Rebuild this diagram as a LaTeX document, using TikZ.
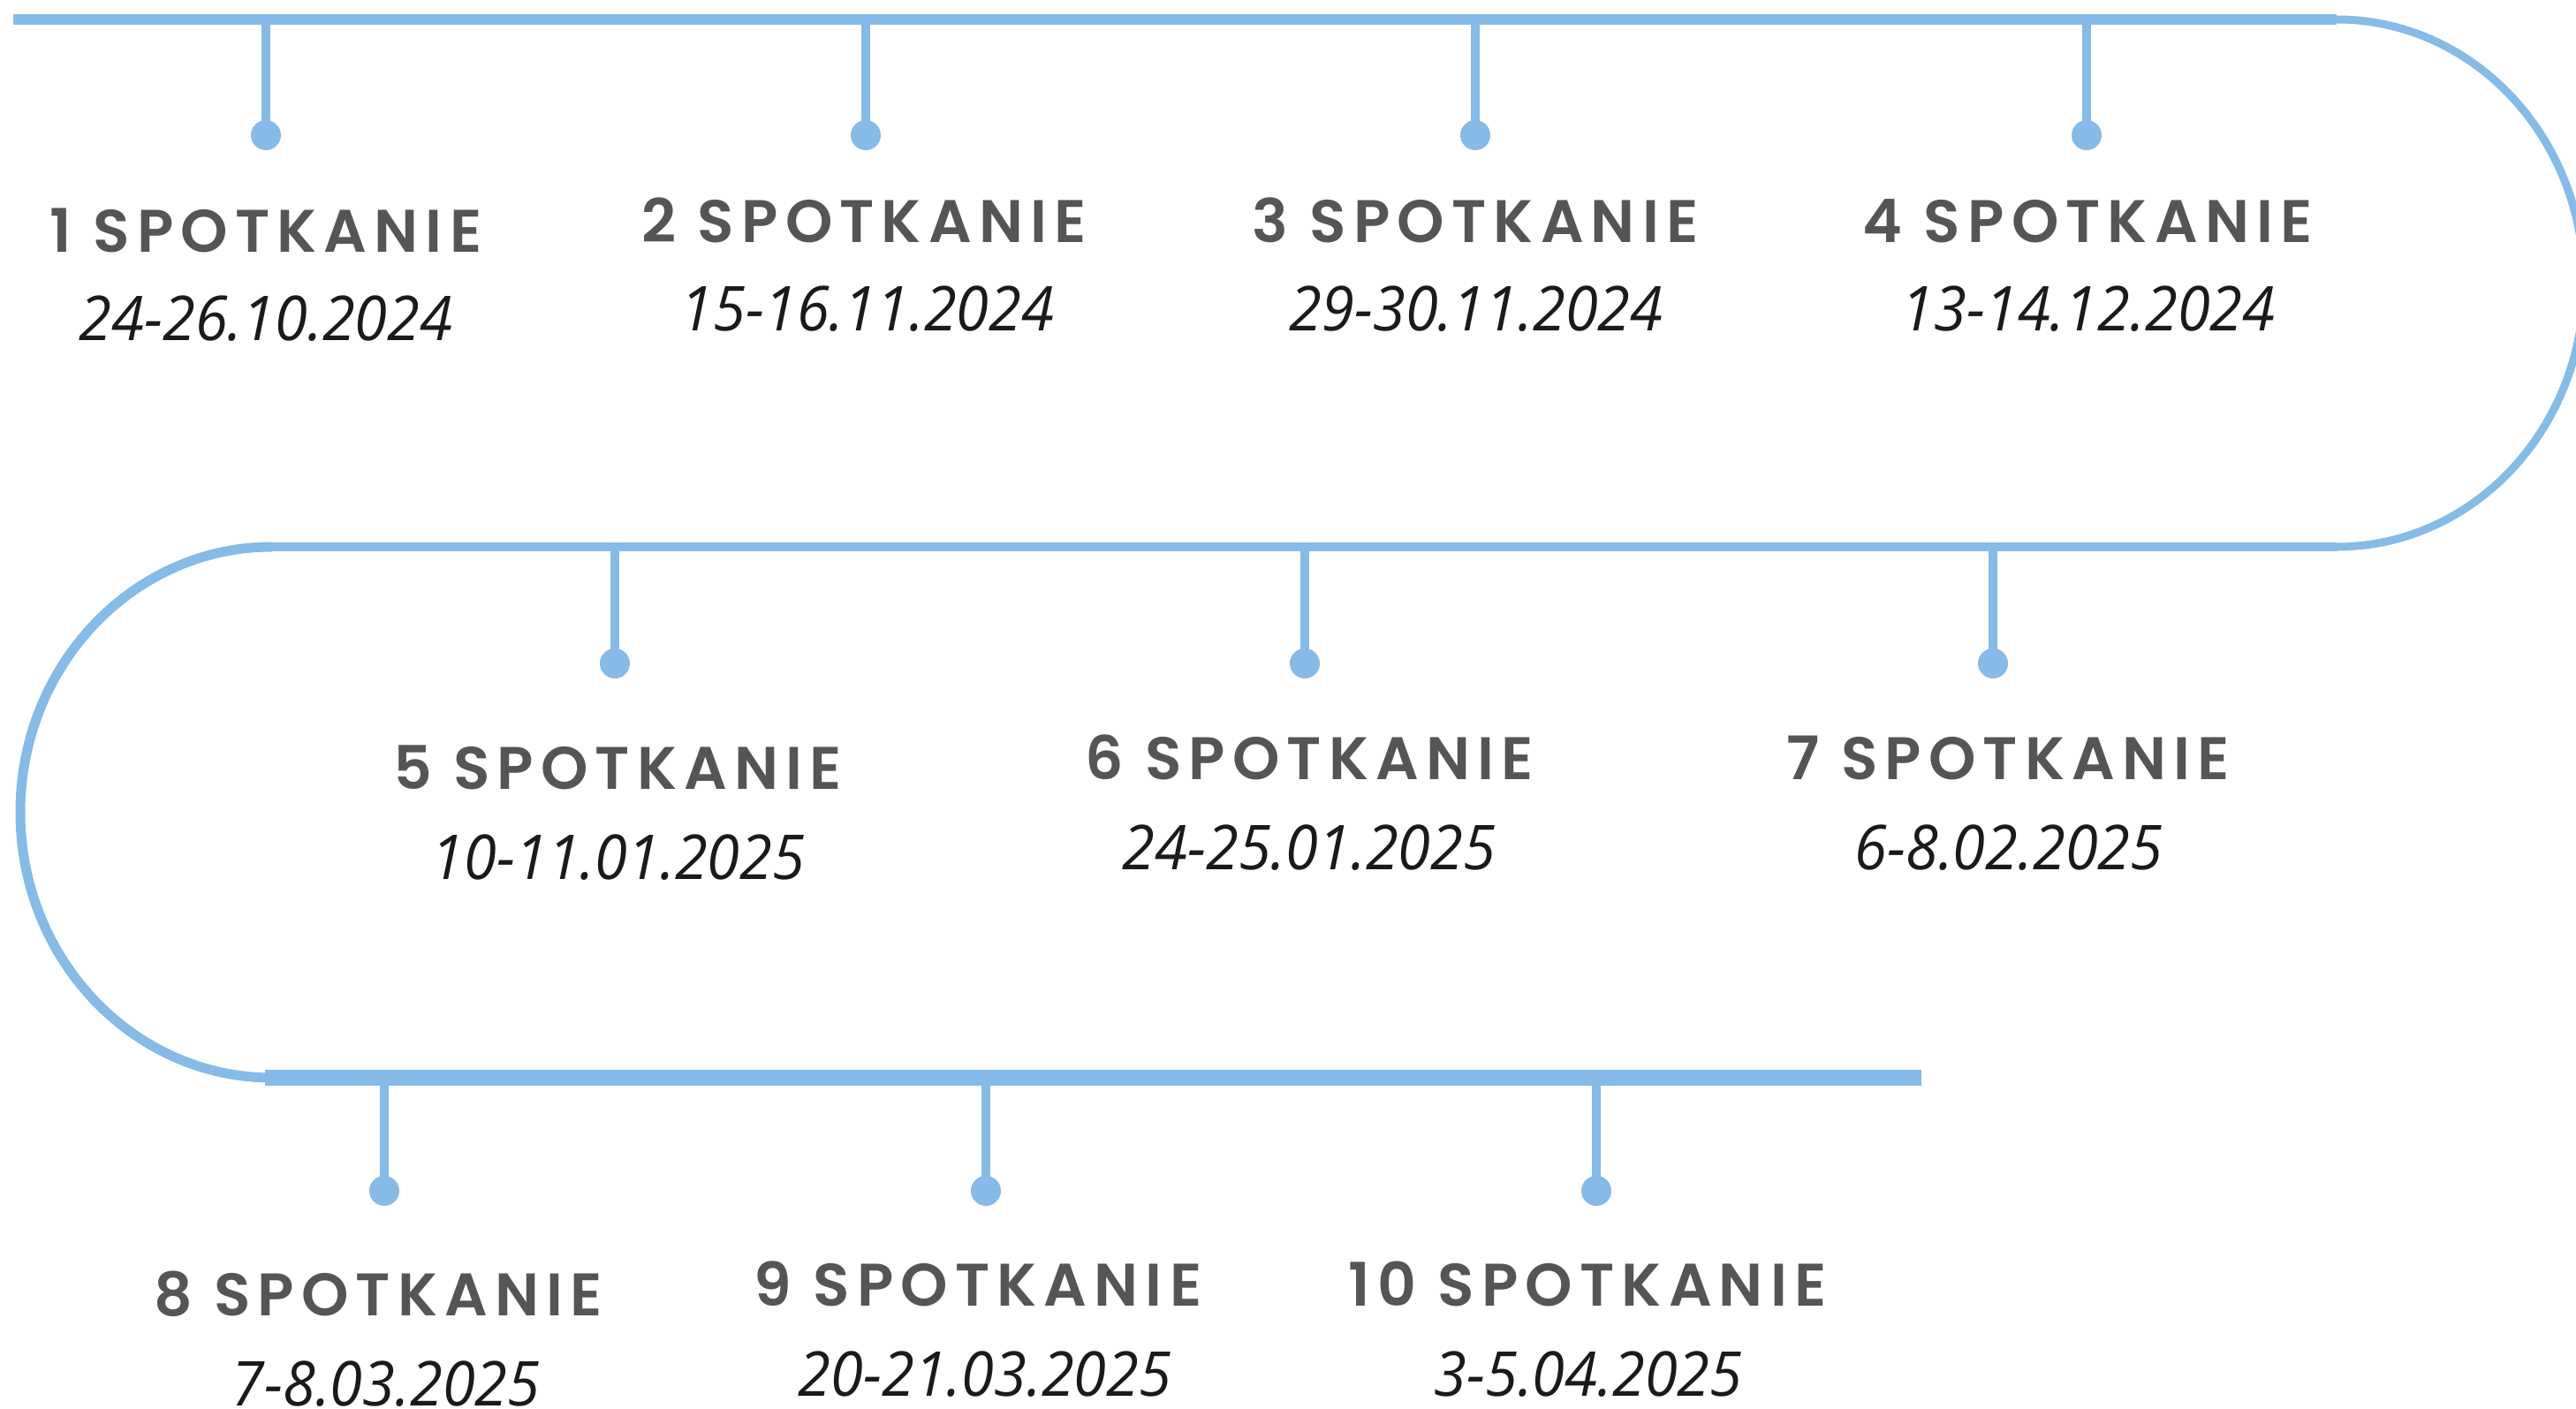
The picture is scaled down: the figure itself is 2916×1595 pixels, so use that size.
\documentclass[tikz,border=0pt]{standalone}
\usepackage{fontspec}
\setmainfont{Open Sans}
\IfFontExistsTF{Poppins SemiBold}
  {\newfontfamily\titlefont{Poppins SemiBold}[LetterSpace=12]}
  {\newfontfamily\titlefont{Poppins}[LetterSpace=12,FakeBold=1]}
\newfontfamily\datefont{Open Sans}[FakeStretch=0.955]
\definecolor{tl}{HTML}{85BBE6}
\definecolor{tgray}{HTML}{555555}
\definecolor{tdate}{HTML}{1A1A1A}
\begin{document}
\begin{tikzpicture}[x=1pt,y=-1pt,
  ttl/.style={anchor=base, inner sep=0pt, text=tgray, font={\titlefont\fontsize{68}{80}\selectfont}},
  datelbl/.style={anchor=base, inner sep=0pt, text=tdate, font={\datefont\itshape\fontsize{70}{84}\selectfont}},
  stem/.style={draw=tl, line width=10.5pt},
  dotn/.style={circle, fill=tl, minimum size=34pt, inner sep=0pt},
  rail/.style={draw=tl}
]
\useasboundingbox (0,0) rectangle (2916,1595);
% main rails
\coordinate (a0) at (15,22);
\coordinate (a1) at (2645,22);
\coordinate (b1) at (2645,619);
\coordinate (b0) at (308,619);
\coordinate (c0) at (300,1220);
\coordinate (c1) at (2175,1220);
\draw[rail, line width=12pt] (a0) -- (a1);
\draw[rail, line width=9pt] (a1) arc[start angle=90, end angle=-90, x radius=280pt, y radius=298.5pt];
\draw[rail, line width=10pt] (b1) -- (b0);
\draw[rail, line width=11pt] (b0) arc[start angle=90, end angle=270, x radius=285pt, y radius=300.5pt];
\draw[rail, line width=18pt] (c0) -- (c1);
% stems and dots
\foreach \i/\x/\ly/\dy in {1/301/22/153, 2/980/22/153, 3/1670/22/153, 4/2362/22/153,
                           5/696/619/751, 6/1477/619/751, 7/2256/619/751,
                           8/435/1220/1348, 9/1116/1220/1348, 10/1807/1220/1348}{
  \coordinate (s\i) at (\x,\ly);
  \node[dotn] (d\i) at (\x,\dy) {};
  \draw[stem] (s\i) -- (d\i.center);
}
% titles
\node[ttl] (t1) at (301,285) {1 SPOTKANIE};
\node[ttl] (t2) at (978,274) {2 SPOTKANIE};
\node[ttl] (t3) at (1670,274) {3 SPOTKANIE};
\node[ttl] (t4) at (2363,274) {4 SPOTKANIE};
\node[ttl] (t5) at (699,893) {5 SPOTKANIE};
\node[ttl] (t6) at (1482,882) {6 SPOTKANIE};
\node[ttl] (t7) at (2273,882) {7 SPOTKANIE};
\node[ttl] (t8) at (428,1489) {8 SPOTKANIE};
\node[ttl] (t9) at (1107,1478) {9 SPOTKANIE};
\node[ttl] (t10) at (1797,1478) {10 SPOTKANIE};
% dates
\node[datelbl] (e1) at (301,385) {24-26.10.2024};
\node[datelbl] (e2) at (982,374) {15-16.11.2024};
\node[datelbl] (e3) at (1671,374) {29-30.11.2024};
\node[datelbl] (e4) at (2364,374) {13-14.12.2024};
\node[datelbl] (e5) at (700,995) {10-11.01.2025};
\node[datelbl] (e6) at (1482,984) {24-25.01.2025};
\node[datelbl] (e7) at (2274,984) {6-8.02.2025};
\node[datelbl] (e8) at (437,1591) {7-8.03.2025};
\node[datelbl] (e9) at (1115,1580) {20-21.03.2025};
\node[datelbl] (e10) at (1798,1580) {3-5.04.2025};
\end{tikzpicture}
\end{document}
